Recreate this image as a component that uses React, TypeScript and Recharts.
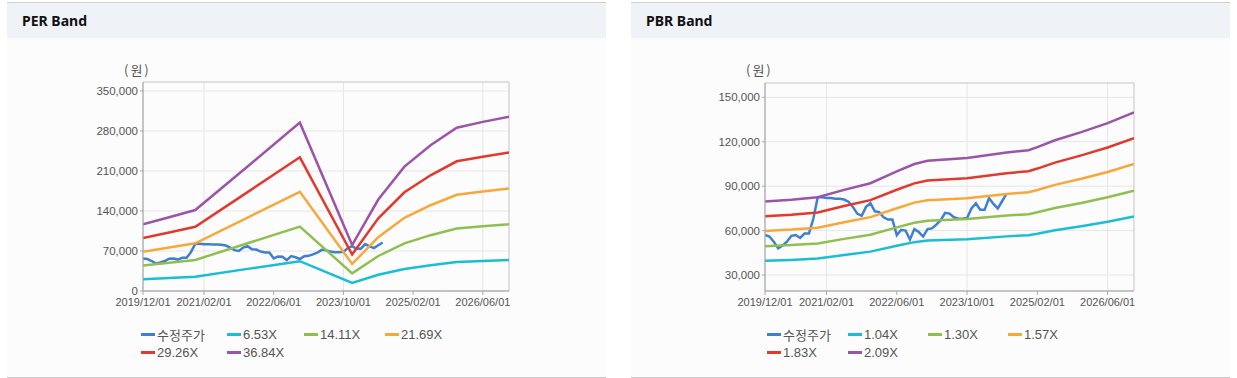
import { CartesianGrid, Line, LineChart, ReferenceArea, XAxis, YAxis } from 'recharts'

// x positions are months counted from 2019/12
const xTickMonths = [0, 14, 30, 46, 62, 78]
const xTickLabels = ['2019/12/01', '2021/02/01', '2022/06/01', '2023/10/01', '2025/02/01', '2026/06/01']

// 수정주가 (adjusted close), monthly from 2019/12
const priceValues = [
  57000, 56000, 52500, 48000, 50000, 52500, 56500, 57000, 55000, 58000,
  58000, 68000, 82500, 82500, 82000, 82000, 81500, 81500, 81000, 79500,
  76000, 71500, 70000, 76000, 78500, 73000, 72500, 69000, 67500, 67500,
  57000, 60500, 60000, 54000, 61000, 59000, 56000, 61000, 61500, 64000,
  67000, 72000, 71500, 69000, 68000, 68000, 68500, 75000, 78500, 74000,
  74000, 82000, 78000, 75000, 80000, 85000,
]

const perMonths = [0, 6, 12, 24, 36, 48, 54, 60, 66, 72, 78, 84]
const per653 = [20700, 22900, 25100, 38700, 52200, 14300, 28400, 38600, 45200, 50700, 52500, 54100]
const per1411 = [44700, 49400, 54300, 83500, 112800, 30800, 61300, 83300, 97700, 109500, 113400, 116900]
const per2169 = [68700, 76000, 83400, 128400, 173500, 47400, 94200, 128100, 150100, 168300, 174300, 179600]
const per2926 = [92700, 102500, 112500, 173100, 234000, 63900, 127100, 172800, 202500, 227000, 235100, 242300]
const per3684 = [116700, 129000, 141700, 218000, 294600, 80500, 160000, 217600, 255000, 285800, 296000, 305100]
const perTicks = [0, 70000, 140000, 210000, 280000, 350000]

const pbrMonths = [0, 6, 12, 18, 24, 30, 34, 37, 46, 55, 60, 62, 66, 72, 78, 84]
const pbr104 = [39600, 40200, 41100, 43500, 45800, 49800, 52200, 53300, 54200, 56100, 56900, 57900, 60200, 62900, 66000, 69600]
const pbr130 = [49500, 50300, 51300, 54400, 57200, 62200, 65300, 66700, 67800, 70200, 71100, 72400, 75300, 78700, 82500, 87000]
const pbr157 = [59800, 60700, 62000, 65700, 69100, 75100, 78900, 80500, 81900, 84700, 85900, 87400, 90900, 95000, 99600, 105100]
const pbr183 = [69700, 70700, 72200, 76600, 80600, 87600, 91900, 93900, 95400, 98800, 100100, 101900, 105900, 110800, 116100, 122500]
const pbr209 = [79600, 80800, 82500, 87500, 92000, 100000, 105000, 107200, 109000, 112800, 114300, 116400, 121000, 126500, 132600, 139900]
const pbrTicks = [30000, 60000, 90000, 120000, 150000]

const colors = ['#3e7fd4', '#1bbdd3', '#8fc04f', '#f7a83a', '#e03a2c', '#9b54a8']

const toPoints = (months: number[], values: number[]) => months.map((m, i) => ({ m, v: values[i] }))
const pricePoints = priceValues.map((v, m) => ({ m, v }))

const font = '"Liberation Sans", Arial, sans-serif'
const fmt = (v: number) => v.toLocaleString('en-US')

interface BandProps {
  left: number
  width: number
  plotLeft: number
  plotTop: number
  plotRight: number
  yDomain: [number, number]
  yTicks: number[]
  bands: { months: number[]; values: number[]; name: string }[]
  legendCols: number[]
}

function BandChart({ left, width, plotLeft, plotTop, plotRight, yDomain, yTicks, bands, legendCols }: BandProps) {
  const yW = 60
  const names = ['수정주가', ...bands.map((b) => b.name)]
  return (
    <>
      <div style={{ position: 'absolute', left: plotLeft - 19, top: 60, fontSize: 13, color: '#555', fontFamily: '"Noto Sans CJK KR", sans-serif', letterSpacing: 2 }}>
        (원)
      </div>
      <div style={{ position: 'absolute', left, top: 0 }}>
        <LineChart
          width={width}
          height={320}
          margin={{ top: plotTop, right: left + width - plotRight, bottom: 5, left: plotLeft - left - yW }}
        >
          <CartesianGrid stroke="#e6e6e6" verticalValues={xTickMonths} horizontalValues={yTicks} />
          <XAxis
            type="number"
            dataKey="m"
            domain={[0, 84]}
            ticks={xTickMonths}
            tickFormatter={(v: number) => xTickLabels[xTickMonths.indexOf(v)]}
            allowDataOverflow
            height={24}
            tickSize={4}
            tickMargin={3}
            stroke="#aaa"
            tick={{ fill: '#555', fontSize: 11, fontFamily: font }}
          />
          <YAxis
            type="number"
            domain={yDomain}
            ticks={yTicks}
            allowDataOverflow
            width={yW}
            tickSize={3}
            tickMargin={2}
            stroke="#aaa"
            tickFormatter={fmt}
            tick={{ fill: '#555', fontSize: 11.5, fontFamily: font }}
          />
          <ReferenceArea x1={0} x2={84} y1={yDomain[0]} y2={yDomain[1]} fill="none" stroke="#c4c4c4" />
          <Line data={pricePoints} dataKey="v" name="수정주가" stroke={colors[0]} strokeWidth={2.5} dot={false} type="linear" isAnimationActive={false} />
          {bands.map((b, i) => (
            <Line
              key={b.name}
              data={toPoints(b.months, b.values)}
              dataKey="v"
              name={b.name}
              stroke={colors[i + 1]}
              strokeWidth={2.5}
              dot={false}
              type="linear"
              isAnimationActive={false}
            />
          ))}
        </LineChart>
      </div>
      {names.map((n, i) => (
        <div
          key={n}
          style={{
            position: 'absolute',
            left: legendCols[i % 4],
            top: i < 4 ? 325 : 343,
            height: 18,
            display: 'flex',
            alignItems: 'center',
            fontSize: 13,
            color: '#555',
            fontFamily: '"Liberation Sans", "Noto Sans CJK KR", sans-serif',
            whiteSpace: 'nowrap',
          }}
        >
          <span style={{ display: 'inline-block', width: 14, height: 3, background: colors[i], marginRight: 2 }} />
          {n}
        </div>
      ))}
    </>
  )
}

function Panel({ left, title }: { left: number; title: string }) {
  return (
    <div
      style={{
        position: 'absolute',
        left,
        top: 2,
        width: 599,
        height: 374,
        background: '#fcfcfc',
        borderTop: '1px solid #d0d0d0',
        borderBottom: '1px solid #c8c8c8',
      }}
    >
      <div
        style={{
          height: 35,
          background: '#eff2f7',
          display: 'flex',
          alignItems: 'center',
          paddingLeft: 15,
          fontWeight: 700,
          fontSize: 14,
          color: '#111',
          fontFamily: '"Noto Sans", "Noto Sans CJK KR", sans-serif',
        }}
      >
        {title}
      </div>
    </div>
  )
}

export default function App() {
  return (
    <div style={{ position: 'absolute', left: 0, top: 0, width: 1237, height: 378, background: '#fff', overflow: 'hidden' }}>
      <Panel left={7} title="PER Band" />
      <Panel left={631} title="PBR Band" />
      <BandChart
        left={0}
        width={520}
        plotLeft={143}
        plotTop={82}
        plotRight={509}
        yDomain={[0, 365750]}
        yTicks={perTicks}
        bands={[
          { months: perMonths, values: per653, name: '6.53X' },
          { months: perMonths, values: per1411, name: '14.11X' },
          { months: perMonths, values: per2169, name: '21.69X' },
          { months: perMonths, values: per2926, name: '29.26X' },
          { months: perMonths, values: per3684, name: '36.84X' },
        ]}
        legendCols={[141, 227, 304, 385]}
      />
      <BandChart
        left={620}
        width={530}
        plotLeft={765}
        plotTop={83}
        plotRight={1134}
        yDomain={[19200, 159700]}
        yTicks={pbrTicks}
        bands={[
          { months: pbrMonths, values: pbr104, name: '1.04X' },
          { months: pbrMonths, values: pbr130, name: '1.30X' },
          { months: pbrMonths, values: pbr157, name: '1.57X' },
          { months: pbrMonths, values: pbr183, name: '1.83X' },
          { months: pbrMonths, values: pbr209, name: '2.09X' },
        ]}
        legendCols={[767, 848, 928, 1008]}
      />
    </div>
  )
}
